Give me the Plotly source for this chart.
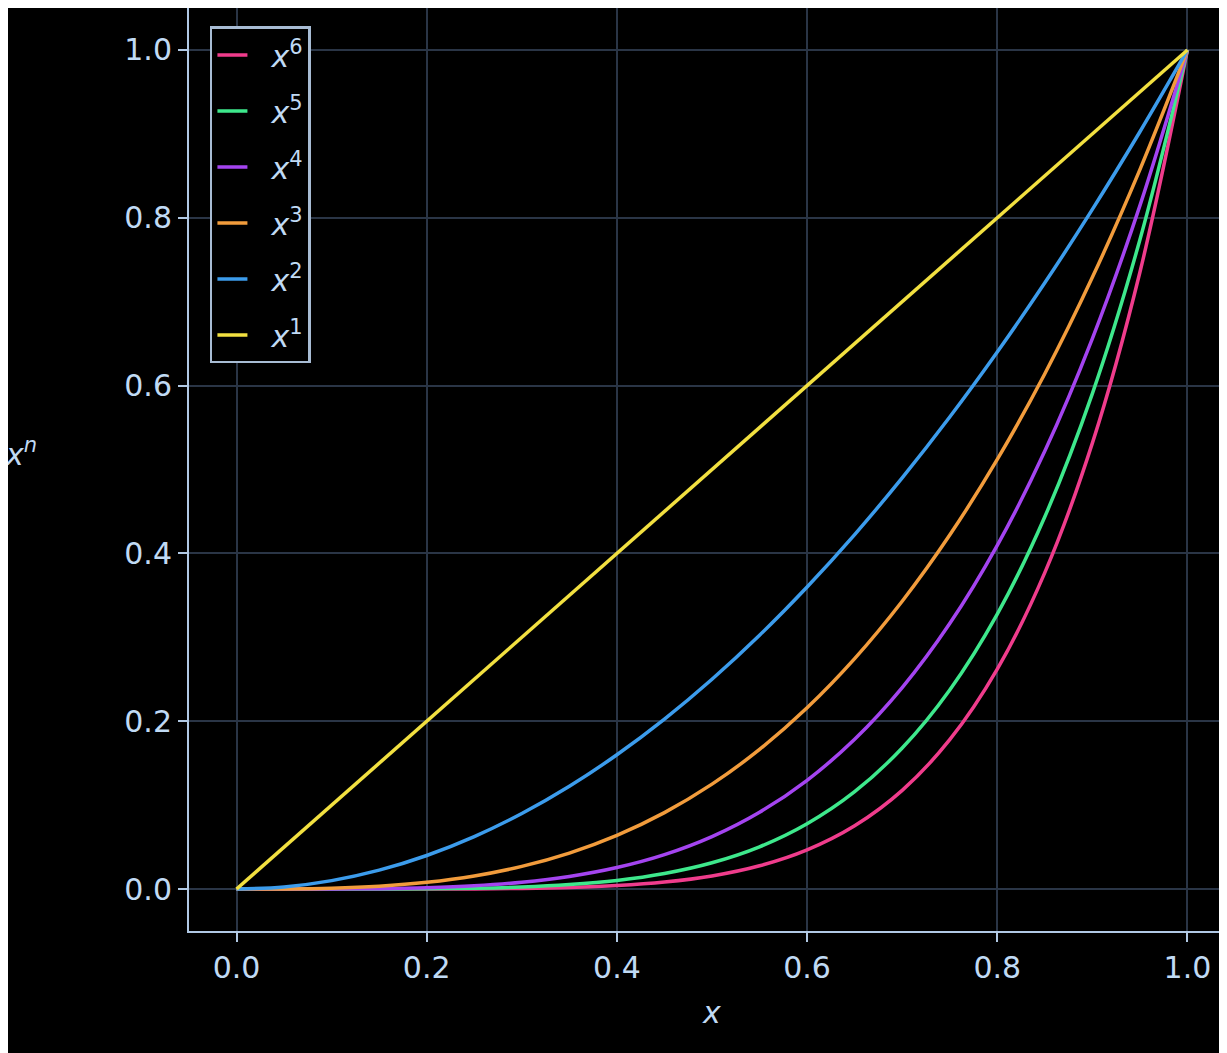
import plotly.graph_objects as go

x_vals = [0, 0.05, 0.1, 0.15, 0.2, 0.25, 0.3, 0.35, 0.4, 0.45, 0.5,
          0.55, 0.6, 0.65, 0.7, 0.75, 0.8, 0.85, 0.9, 0.95, 1.0]
y_x6 = [0, 0, 0, 0, 0.0001, 0.0002, 0.0007, 0.0018, 0.0041, 0.0083, 0.0156,
        0.0277, 0.0467, 0.0754, 0.1176, 0.178, 0.2621, 0.3771, 0.5314, 0.7351, 1]
y_x5 = [0, 0, 0, 0.0001, 0.0003, 0.001, 0.0024, 0.0053, 0.0102, 0.0185, 0.0313,
        0.0503, 0.0778, 0.116, 0.1681, 0.2373, 0.3277, 0.4437, 0.5905, 0.7738, 1]
y_x4 = [0, 0, 0.0001, 0.0005, 0.0016, 0.0039, 0.0081, 0.015, 0.0256, 0.041, 0.0625,
        0.0915, 0.1296, 0.1785, 0.2401, 0.3164, 0.4096, 0.522, 0.6561, 0.8145, 1]
y_x3 = [0, 0.0001, 0.001, 0.0034, 0.008, 0.0156, 0.027, 0.0429, 0.064, 0.0911, 0.125,
        0.1664, 0.216, 0.2746, 0.343, 0.4219, 0.512, 0.6141, 0.729, 0.8574, 1]
y_x2 = [0, 0.0025, 0.01, 0.0225, 0.04, 0.0625, 0.09, 0.1225, 0.16, 0.2025, 0.25,
        0.3025, 0.36, 0.4225, 0.49, 0.5625, 0.64, 0.7225, 0.81, 0.9025, 1]
x_lin = [0, 1]
y_x1 = [0, 1]

series = [
    ("6", x_vals, y_x6, "#f03c8c"),
    ("5", x_vals, y_x5, "#3ee88c"),
    ("4", x_vals, y_x4, "#a444f0"),
    ("3", x_vals, y_x3, "#f29c3c"),
    ("2", x_vals, y_x2, "#3c9cec"),
    ("1", x_lin, y_x1, "#f2e040"),
]

fig = go.Figure()
for n, xs, ys, color in series:
    fig.add_trace(go.Scatter(
        x=xs, y=ys, mode="lines", name=f"  <i>x</i><sup>{n}</sup>", legendgroup=n,
        line=dict(color=color, width=3.5, shape="spline", smoothing=1.0),
    ))

text_col = "#c0daf4"
axis_common = dict(
    showgrid=True, gridcolor="#2a3546", gridwidth=2, zeroline=False,
    showline=True, linecolor="#b0c8e4", linewidth=2,
    ticks="outside", tickcolor="#b0c8e4", ticklen=9, tickwidth=2,
    tickfont=dict(size=30, color=text_col), tickformat=".1f", dtick=0.2,
)
fig.update_xaxes(range=[-0.05, 1.05],
                 title=dict(text="<i>x</i>", font=dict(size=30, color=text_col), standoff=18),
                 **axis_common)
fig.update_yaxes(range=[-0.05, 1.05], **axis_common)

fig.add_annotation(text="<i>x<sup>n</sup></i>", xref="paper", yref="y", x=-0.178, y=0.52,
                   showarrow=False, font=dict(size=30, color=text_col), xanchor="left")

fig.update_layout(
    width=1227, height=1053,
    paper_bgcolor="black", plot_bgcolor="black",
    font=dict(family="DejaVu Sans", color=text_col),
    margin=dict(l=181, r=0, t=0, b=130),
    legend=dict(x=0.02, y=0.98, xanchor="left", yanchor="top",
                bgcolor="black", bordercolor="#a8bcd4", borderwidth=2.5,
                font=dict(size=30, color=text_col), tracegroupgap=14),
)

fig.write_html("out.html")
